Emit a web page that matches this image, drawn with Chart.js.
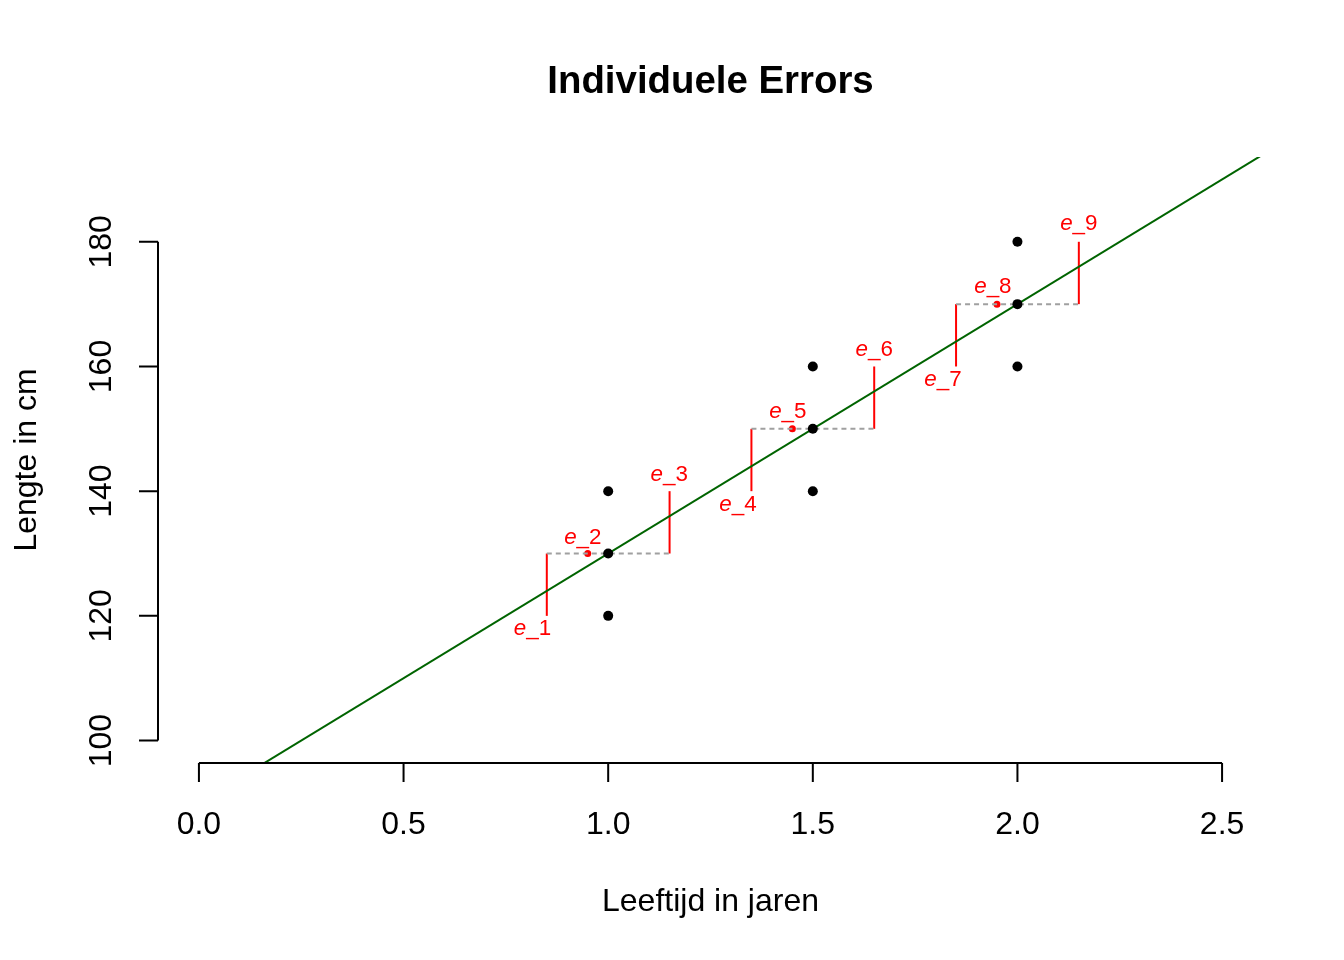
<!DOCTYPE html>
<html><head><meta charset="utf-8">
<script src="https://cdn.jsdelivr.net/npm/chart.js@4.4.0/dist/chart.umd.min.js"></script>
<style>html,body{margin:0;padding:0;background:#fff}canvas{display:block}</style>
</head><body>
<canvas id="c" width="1344" height="960"></canvas>
<script>
// ---- data ----
const ageX = [1, 1, 1, 1.5, 1.5, 1.5, 2, 2, 2];
const lengthY = [120, 130, 140, 140, 150, 160, 160, 170, 180];
const fitLineX = [-0.1, 2.6];
const fitLineY = [86, 194];
const errX = [0.85, 1.15, 1.35, 1.65, 1.85, 2.15];
const errFrom = [120, 130, 140, 150, 160, 170];
const errTo = [130, 140, 150, 160, 170, 180];
const refStartX = [0.85, 1.35, 1.85];
const refEndX = [1.15, 1.65, 2.15];
const refY = [130, 150, 170];
const errDotX = [0.95, 1.45, 1.95];
const errDotY = [130, 150, 170];
const errLabelPrefix = 'e';
const errLabelSuffix = ['_1', '_2', '_3', '_4', '_5', '_6', '_7', '_8', '_9'];
const errLabelX = [0.815, 0.938, 1.149, 1.317, 1.439, 1.650, 1.818, 1.940, 2.150];
const errLabelY = [118.2, 132.8, 142.9, 138.1, 153.0, 163.0, 158.1, 173.0, 183.1];
const xTicks = [0, 0.5, 1, 1.5, 2, 2.5];
const xTickLabels = ['0.0', '0.5', '1.0', '1.5', '2.0', '2.5'];
const yTicks = [100, 120, 140, 160, 180];
const yTickLabels = ['100', '120', '140', '160', '180'];
const titleText = 'Individuele Errors';
const xTitle = 'Leeftijd in jaren';
const yTitle = 'Lengte in cm';

const FONT = '"Liberation Sans", Arial, Helvetica, sans-serif';

const datasets = [];
datasets.push({
  data: ageX.map((x, i) => ({x, y: lengthY[i]})),
  pointRadius: 5, pointBackgroundColor: '#000', pointBorderWidth: 0, showLine: false
});
datasets.push({
  data: fitLineX.map((x, i) => ({x, y: fitLineY[i]})),
  showLine: true, borderColor: '#006400', borderWidth: 2, pointRadius: 0
});
refY.forEach((y, i) => datasets.push({
  data: [{x: refStartX[i], y}, {x: refEndX[i], y}],
  showLine: true, borderColor: '#a0a0a0', borderWidth: 2, borderDash: [5, 4], pointRadius: 0
}));
errX.forEach((x, i) => datasets.push({
  data: [{x, y: errFrom[i]}, {x, y: errTo[i]}],
  showLine: true, borderColor: '#ff0000', borderWidth: 2, pointRadius: 0
}));
datasets.push({
  data: errDotX.map((x, i) => ({x, y: errDotY[i]})),
  pointRadius: 3.5, pointBackgroundColor: '#ff0000', pointBorderWidth: 0, showLine: false
});

const rAxes = {
  id: 'rAxes',
  afterDraw(chart) {
    const ctx = chart.ctx, xs = chart.scales.x, ys = chart.scales.y;
    const ca = chart.chartArea;
    ctx.save();
    // error labels: italic e + upright suffix
    ctx.fillStyle = '#ff0000';
    ctx.textBaseline = 'alphabetic';
    ctx.textAlign = 'left';
    const fItal = 'italic 22.4px ' + FONT, fReg = '22.4px ' + FONT;
    errLabelSuffix.forEach((s, i) => {
      ctx.font = fItal; const w1 = ctx.measureText(errLabelPrefix).width;
      ctx.font = fReg; const w2 = ctx.measureText(s).width;
      const cx = xs.getPixelForValue(errLabelX[i]), by = ys.getPixelForValue(errLabelY[i]) + 8;
      const left = cx - (w1 + w2) / 2;
      ctx.font = fItal; ctx.fillText(errLabelPrefix, left, by);
      ctx.font = fReg; ctx.fillText(s, left + w1, by);
    });
    // axes
    ctx.strokeStyle = '#000';
    ctx.lineWidth = 2;
    ctx.lineCap = 'butt';
    const axY = ca.bottom, axX = ca.left;
    const x0 = xs.getPixelForValue(xTicks[0]), x1 = xs.getPixelForValue(xTicks[xTicks.length - 1]);
    ctx.beginPath();
    ctx.moveTo(x0, axY); ctx.lineTo(x1, axY);
    xTicks.forEach(v => { const p = xs.getPixelForValue(v); ctx.moveTo(p, axY); ctx.lineTo(p, axY + 19); });
    const y0 = ys.getPixelForValue(yTicks[0]), y1 = ys.getPixelForValue(yTicks[yTicks.length - 1]);
    ctx.moveTo(axX, y0); ctx.lineTo(axX, y1);
    yTicks.forEach(v => { const p = ys.getPixelForValue(v); ctx.moveTo(axX, p); ctx.lineTo(axX - 19, p); });
    ctx.stroke();
    ctx.fillStyle = '#000';
    ctx.font = '32px ' + FONT;
    ctx.textAlign = 'center';
    ctx.textBaseline = 'alphabetic';
    xTicks.forEach((v, i) => ctx.fillText(xTickLabels[i], xs.getPixelForValue(v), 834));
    yTicks.forEach((v, i) => {
      ctx.save();
      ctx.translate(111, ys.getPixelForValue(v));
      ctx.rotate(-Math.PI / 2);
      ctx.fillText(yTickLabels[i], 0, 0);
      ctx.restore();
    });
    // axis titles
    const cx = (ca.left + ca.right) / 2, cy = (ca.top + ca.bottom) / 2;
    ctx.fillText(xTitle, cx, 911);
    ctx.save();
    ctx.translate(36, cy);
    ctx.rotate(-Math.PI / 2);
    ctx.fillText(yTitle, 0, 0);
    ctx.restore();
    // title
    ctx.font = 'bold 38.4px ' + FONT;
    ctx.fillText(titleText, cx, 93);
    ctx.restore();
  }
};

new Chart(document.getElementById('c'), {
  type: 'scatter',
  data: {datasets},
  options: {
    responsive: false,
    animation: false,
    layout: {padding: {left: 158, right: 81, top: 157, bottom: 197}},
    plugins: {legend: {display: false}, tooltip: {enabled: false}, title: {display: false}},
    scales: {
      x: {type: 'linear', min: -0.1, max: 2.6, display: false},
      y: {type: 'linear', min: 96.4, max: 193.6, display: false}
    }
  },
  plugins: [rAxes]
});
</script>
</body></html>
